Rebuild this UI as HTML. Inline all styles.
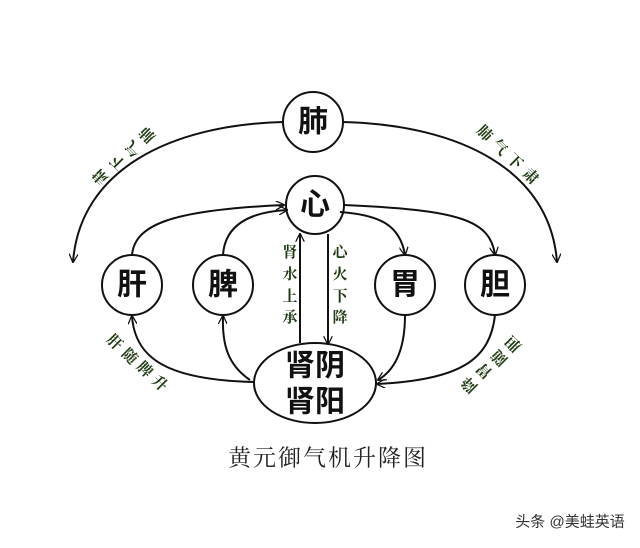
<!DOCTYPE html>
<html><head><meta charset="utf-8"><style>
html,body{margin:0;padding:0;background:#fff}
svg{display:block}
.n{font-family:"Liberation Sans","Noto Sans CJK SC",sans-serif;font-size:30px;font-weight:bold;fill:#111;text-anchor:middle;dominant-baseline:central}
.s{font-family:"Liberation Serif","Noto Serif CJK SC",serif;font-size:15px;font-weight:bold;fill:#1f3a12;text-anchor:middle;dominant-baseline:central}
</style></head><body>
<svg width="640" height="548" viewBox="0 0 640 548" xmlns="http://www.w3.org/2000/svg">
<defs>
<marker id="a" viewBox="0 0 10 10" refX="9" refY="5" markerWidth="9" markerHeight="9" orient="auto" markerUnits="userSpaceOnUse">
<path d="M0,0 L10,5 L0,10" fill="none" stroke="#111" stroke-width="1.4"/></marker>
</defs>
<g fill="none" stroke="#111" stroke-width="2">
<circle cx="313" cy="122" r="30" fill="#fff"/>
<circle cx="315" cy="205" r="29" fill="#fff"/>
<circle cx="132" cy="285" r="30"/>
<circle cx="223" cy="285" r="30"/>
<circle cx="405" cy="285" r="30"/>
<circle cx="495" cy="285" r="30"/>
<ellipse cx="315" cy="383" rx="61" ry="40"/>
<path d="M283,122 C170,125 80,170 73,262" marker-end="url(#a)"/>
<path d="M343,122 C460,125 550,170 557,262" marker-end="url(#a)"/>
<path d="M132,255 C135,225 170,210 284,205" marker-end="url(#a)"/>
<path d="M223,255 C225,225 250,212 287,210" marker-end="url(#a)"/>
<path d="M344,205 C460,210 490,220 495,255" marker-end="url(#a)"/>
<path d="M340,212 C380,215 400,225 405,255" marker-end="url(#a)"/>
<path d="M300,343 L300,234" marker-end="url(#a)"/>
<path d="M328,234 L328,344" marker-end="url(#a)"/>
<path d="M254,382 C170,380 135,360 132,316" marker-end="url(#a)"/>
<path d="M250,380 C228,365 222,345 223,316" marker-end="url(#a)"/>
<path d="M405,315 C405,350 395,370 378,380" marker-end="url(#a)"/>
<path d="M495,315 C490,360 460,380 377,384" marker-end="url(#a)"/>
</g>
<text class="n" x="313" y="122">肺</text>
<text class="n" x="315" y="205">心</text>
<text class="n" x="132" y="285">肝</text>
<text class="n" x="223" y="285">脾</text>
<text class="n" x="405" y="285">胃</text>
<text class="n" x="495" y="285">胆</text>
<text class="n" x="315" y="366">肾阴</text>
<text class="n" x="315" y="402">肾阳</text>
<g class="s">
<text x="290" y="253">肾</text><text x="290" y="275">水</text><text x="290" y="297">上</text><text x="290" y="318">承</text>
<text x="340" y="253">心</text><text x="340" y="275">火</text><text x="340" y="297">下</text><text x="340" y="318">降</text>
<text transform="translate(148,134) rotate(-135)">肺</text>
<text transform="translate(134,148) rotate(-135)">气</text>
<text transform="translate(119,162) rotate(-135)">下</text>
<text transform="translate(101,176) rotate(-135)">肃</text>
<text transform="translate(484,134) rotate(45)">肺</text>
<text transform="translate(499,148) rotate(45)">气</text>
<text transform="translate(514,162) rotate(45)">下</text>
<text transform="translate(530,177) rotate(45)">肃</text>
<text transform="translate(114,343) rotate(45)">肝</text>
<text transform="translate(129,357) rotate(45)">随</text>
<text transform="translate(144,370) rotate(45)">脾</text>
<text transform="translate(159,384) rotate(45)">升</text>
<text transform="translate(514,343) rotate(-135)">胆</text>
<text transform="translate(500,357) rotate(-135)">随</text>
<text transform="translate(485,370) rotate(-135)">胃</text>
<text transform="translate(470,384) rotate(-135)">降</text>
</g>
<text x="328" y="458" font-family="'Liberation Serif','Noto Serif CJK SC',serif" font-size="23" fill="#222" text-anchor="middle" dominant-baseline="central" letter-spacing="2">黄元御气机升降图</text>
<text x="570" y="522" font-family="'Liberation Sans','Noto Sans CJK SC',sans-serif" font-size="15" fill="#333" text-anchor="middle" dominant-baseline="central">头条 @美蛙英语</text>
</svg>
</body></html>
